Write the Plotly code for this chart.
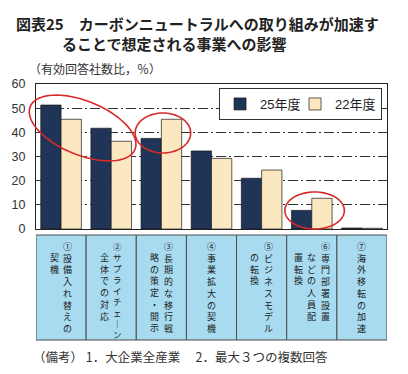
import math
import plotly.graph_objects as go

# ---------------- data ----------------
series_names = ["25年度", "22年度"]
v25 = [51.3, 41.7, 37.5, 32.3, 21.0, 7.7, 0.4]
v22 = [45.4, 36.3, 45.4, 29.2, 24.4, 12.7, 0.3]
# category labels, vertical columns (right to left)
cat_labels = [
    ["①設備入れ替えの", "契機"],
    ["②サプライチェーン", "全体での対応"],
    ["③長期的な移行戦", "略の策定・開示"],
    ["④事業拡大の契機"],
    ["⑤ビジネスモデル", "の転換"],
    ["⑥専門部署設置", "などの人員配", "置転換"],
    ["⑦海外移転の加速"],
]
y_ticks = [0, 10, 20, 30, 40, 50, 60]
title1 = "図表25　カーボンニュートラルへの取り組みが加速す"
title2 = "ることで想定される事業への影響"
unit_text = "（有効回答社数比，％）"
note_text = "（備考） 1．大企業全産業　 2．最大３つの複数回答"

# ---------------- layout constants ----------------
W, H = 408, 374
L, R, T, B = 33, 387, 84, 229
NAVY = "#1f3457"
BEIGE = "#fce8c0"
BOXFILL = "#a8dbf0"
JP = "Noto Sans CJK JP"
LAT = "Liberation Sans, Noto Sans CJK JP"


def pp(px, py):
    return (px - L) / (R - L), (B - py) / (B - T)


x_idx = list(range(len(v25)))
fig = go.Figure()
fig.add_trace(go.Bar(x=x_idx, y=v25, name=series_names[0], legendwidth=30,
                     marker=dict(color=NAVY, line=dict(color="#1a1a1a", width=0.7))))
fig.add_trace(go.Bar(x=x_idx, y=v22, name=series_names[1],
                     marker=dict(color=BEIGE, line=dict(color="#1a1a1a", width=0.7))))

shapes = []
annotations = []

# category label boxes
n = len(cat_labels)
by0 = pp(0, 340)[1]
by1 = pp(0, 235)[1]
for i in range(n):
    shapes.append(dict(type="rect", xref="x", yref="paper", x0=i - 0.5, x1=i + 0.5,
                       y0=by0, y1=by1, fillcolor=BOXFILL,
                       line=dict(color="#4d4d4d", width=1)))

# vertical text: one multi-line annotation per column
cat_w = (R - L) / n
col_sp = 13.5
for i, cols in enumerate(cat_labels):
    cx = L + cat_w * (i + 0.5)
    nc = len(cols)
    for k, col in enumerate(cols):
        colx = cx + (nc - 1) / 2 * col_sp - k * col_sp
        chars = [("｜" if c == "ー" else c) for c in col]
        size = 9 if len(chars) <= 8 else 8.5
        top = 237.5 if k == 0 else 237.5 + 1.3 * size
        xp, yp = pp(colx, top)
        annotations.append(dict(text="<br>".join(chars), x=xp, y=yp,
                                xref="paper", yref="paper", showarrow=False,
                                xanchor="center", yanchor="top", align="center",
                                font=dict(family=JP, size=size, color="#1a1a1a")))

# red ellipses (highlight marks)
def ellipse_path(cx, cy, a, b, theta_deg):
    th = math.radians(theta_deg)
    pts = []
    for s in range(73):
        t = 2 * math.pi * s / 72
        px = cx + a * math.cos(t) * math.cos(th) - b * math.sin(t) * math.sin(th)
        py = cy + a * math.cos(t) * math.sin(th) + b * math.sin(t) * math.cos(th)
        xp, yp = pp(px, py)
        pts.append(f"{xp:.4f},{yp:.4f}")
    return "M" + " L".join(pts) + " Z"

for (ecx, ecy, ea, eb, eth) in [(80, 128, 57, 27, 22), (161, 133, 28, 20, 0), (314, 210.5, 30, 18.5, 0)]:
    shapes.append(dict(type="path", xref="paper", yref="paper",
                       path=ellipse_path(ecx, ecy, ea, eb, eth),
                       line=dict(color="#d62a2a", width=1.6)))

# titles and notes
def txt(s, px, py, size, bold=False, color="#222", anchor="left"):
    xp, yp = pp(px, py)
    annotations.append(dict(text=f"<b>{s}</b>" if bold else s, x=xp, y=yp,
                            xref="paper", yref="paper", showarrow=False,
                            xanchor=anchor, yanchor="middle",
                            font=dict(family=JP, size=size, color=color)))

txt(title1, 11, 23, 15, bold=True)
txt(title2, 57, 43.5, 15, bold=True)
txt(unit_text, 24, 68, 12, color="#333")
txt(note_text, 28, 356, 12.5, color="#333")

fig.update_layout(
    width=W, height=H, autosize=False,
    margin=dict(l=L, r=W - R, t=T, b=H - B, pad=0),
    paper_bgcolor="white", plot_bgcolor="white",
    barmode="group", bargap=0.19, bargroupgap=0,
    showlegend=True,
    legend=dict(orientation="h", x=pp(382, 0)[0], xanchor="right",
                y=pp(0, 88)[1], yanchor="top",
                bgcolor="white", bordercolor="#333", borderwidth=1,
                font=dict(family=LAT, size=13, color="#222"),
                itemwidth=30, tracegroupgap=0),
    shapes=shapes, annotations=annotations,
)
fig.update_xaxes(range=[-0.5, n - 0.5], showticklabels=False, showgrid=False,
                 zeroline=False, showline=True, mirror=True, linecolor="#222",
                 linewidth=1, ticks="", fixedrange=True)
fig.update_yaxes(range=[0, 60], tickvals=y_ticks, ticktext=[str(v) for v in y_ticks],
                 showgrid=True, gridcolor="#333", gridwidth=1,
                 griddash="10px,3px,2px,3px",
                 zeroline=False, showline=True, mirror=True, linecolor="#222",
                 linewidth=1, ticks="", ticklabelstandoff=7,
                 tickfont=dict(family=LAT, size=12.5, color="#333"))

fig.write_html("out.html", config={"displayModeBar": False},
               post_script="document.body.style.margin='0';")
